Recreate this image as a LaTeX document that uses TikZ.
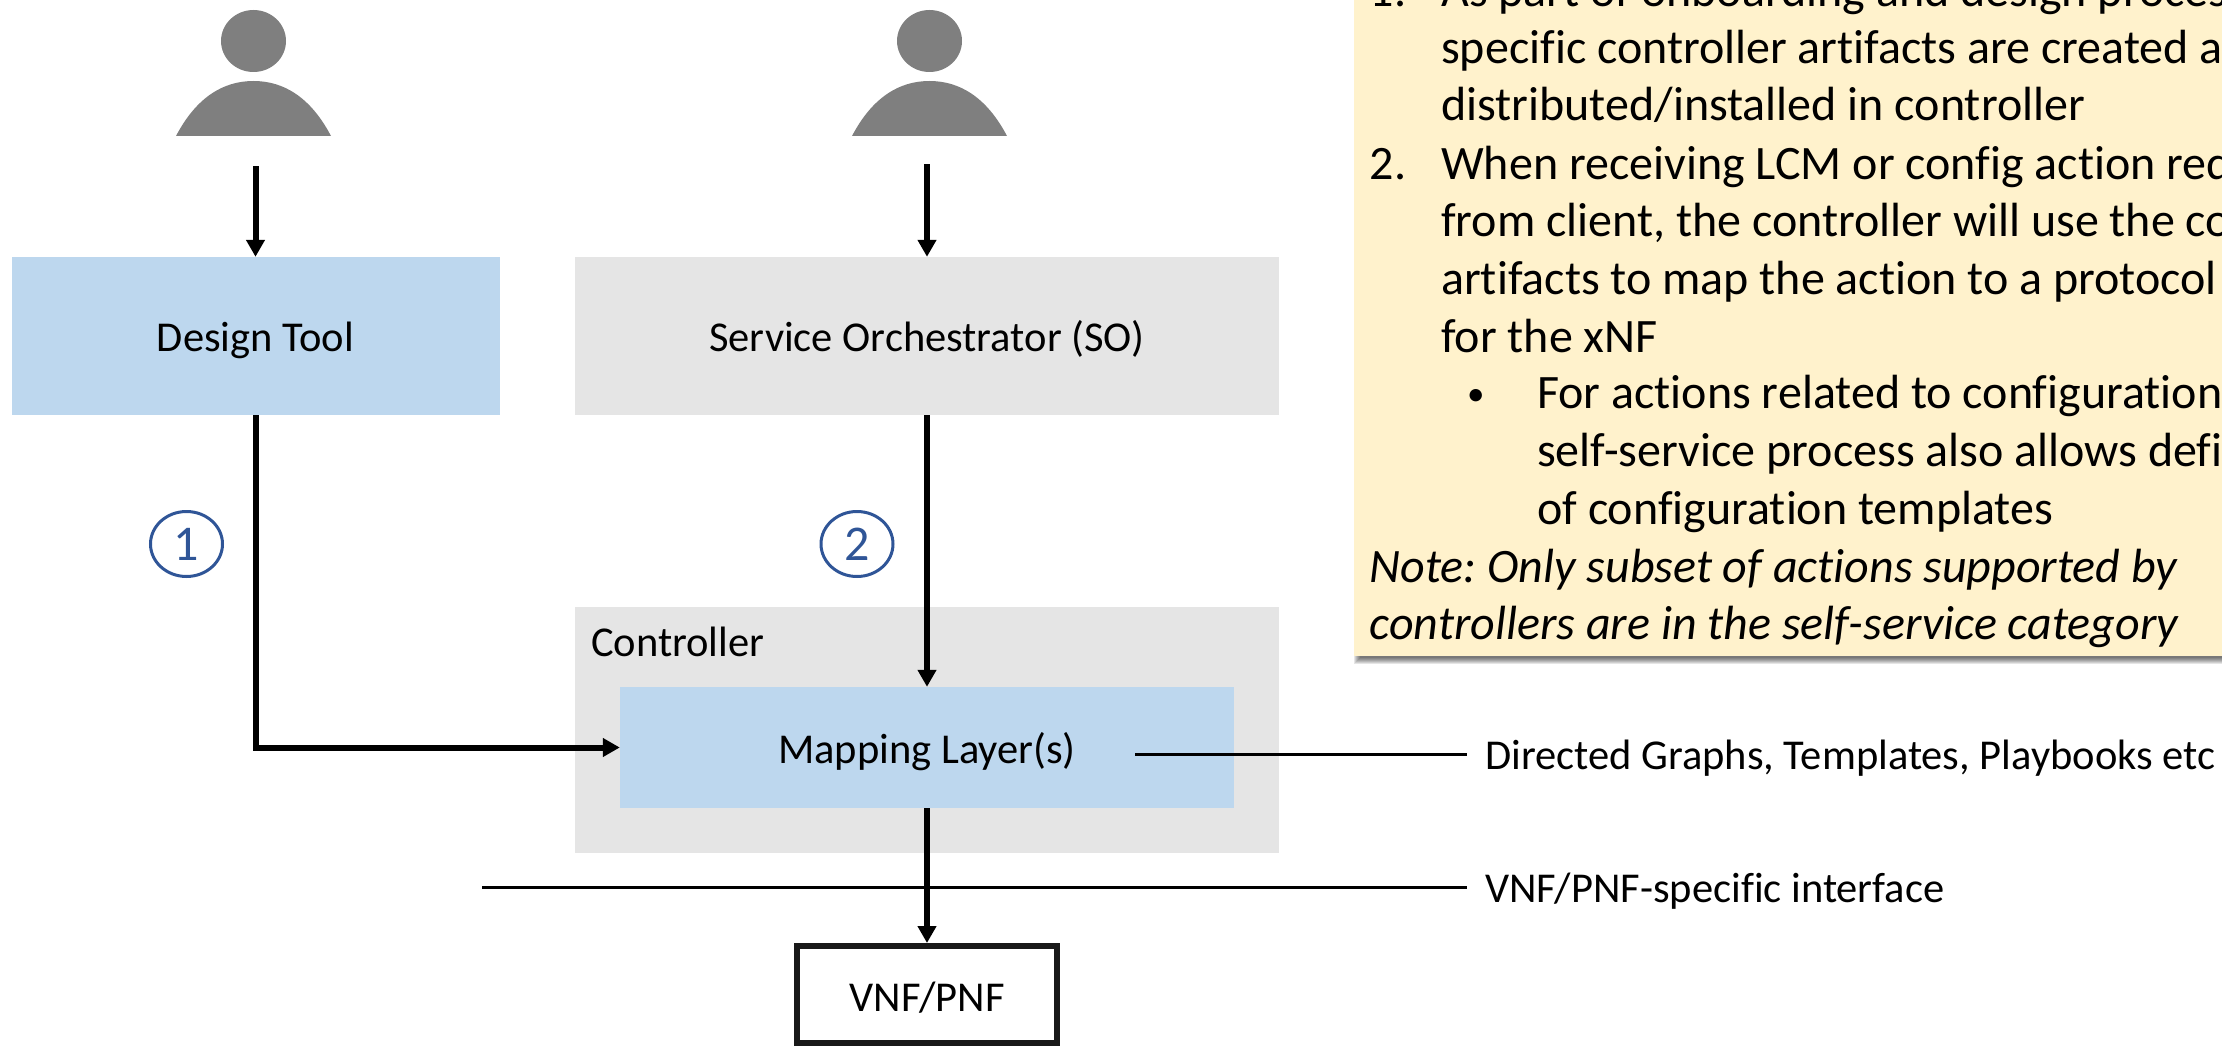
\documentclass[tikz,border=0pt]{standalone}
\usepackage{fontspec}
\setmainfont{Carlito}[Ligatures=NoCommon]
\usetikzlibrary{arrows.meta,shapes.geometric}
\definecolor{boxblue}{HTML}{BDD7EE}
\definecolor{boxgray}{HTML}{E5E5E5}
\definecolor{notefill}{HTML}{FFF2CC}
\definecolor{personfill}{HTML}{7F7F7F}
\definecolor{stepblue}{HTML}{2F5597}
\frenchspacing
\tikzset{
    boxlabel/.style = {font=\fontsize{42.5}{50}\selectfont, inner sep=0pt, text height=41pt, text depth=10pt},
    bluebox/.style = {boxlabel, fill=boxblue},
    graybox/.style = {boxlabel, fill=boxgray},
    flow/.style = {line width=6pt, -{Triangle[length=17pt,width=18pt]}},
    thinline/.style = {line width=3pt},
    sidelabel/.style = {boxlabel, anchor=west, inner xsep=18pt, text height=40pt, text depth=10pt},
    stepmark/.style = {ellipse, draw=stepblue, line width=3pt, text=stepblue, inner sep=0pt, font=\fontsize{50}{58}\selectfont},
    notetext/.style = {anchor=base west, inner sep=0pt, font=\fontsize{48}{58}\selectfont}
}
\begin{document}
\begin{tikzpicture}[x=1pt,y=-1pt]
    \useasboundingbox (0,0) rectangle (2222,1046);
    \clip (0,0) rectangle (2222,1046);
    \foreach \px in {253.5,929.5}{
        \fill[personfill] (\px,41) ellipse (32.5 and 31);
        \fill[personfill] (\px-77.5,136) .. controls (\px-57,97) and (\px-30,81) .. (\px,81)
            .. controls (\px+30,81) and (\px+57,97) .. (\px+77.5,136) -- cycle;
    }
    \foreach \k in {0,...,6}
        \fill[black,opacity=.1] (1354+\k,\k) rectangle (2230,664-\k);
    \fill[notefill] (1354,-10) rectangle (2230,656);
    \foreach \ypos/\xpos/\linetext [count=\n] in {
        6.5/1369.5/1.,
        6.5/1441/As part of onboarding and design process,
        63.5/1441/specific controller artifacts are created and,
        120.5/1441/{distributed/installed in controller},
        179.5/1369.5/2.,
        179.5/1441/When receiving LCM or config action request,
        236.5/1441/{from client, the controller will use the controller},
        294.5/1441/artifacts to map the action to a protocol,
        352.5/1441/for the xNF,
        408.5/1537/For actions related to configuration,
        466.5/1537/self-service process also allows definition,
        524.5/1537/of configuration templates}
        \node[notetext] (noteline\n) at (\xpos,\ypos) {\linetext};
    \node[notetext,font=\fontsize{35}{42}\selectfont] (notebullet) at (1467,405) {•};
    \node[notetext,font=\fontsize{48}{58}\selectfont\itshape] (notefirst) at (1369.5,582.5) {Note: Only subset of actions supported by};
    \node[notetext,font=\fontsize{48}{58}\selectfont\itshape] (notesecond) at (1369.5,639.5) {controllers are in the self-service category};
    \node[bluebox,minimum width=488pt,minimum height=158pt] (designtool) at (255.5,336) {Design Tool};
    \node[graybox,minimum width=704pt,minimum height=158pt] (so) at (927,336) {Service Orchestrator (SO)};
    \node[graybox,minimum width=704pt,minimum height=246pt] (controller) at (927,730) {};
    \node[boxlabel,anchor=base west] (controllerlabel) at (591,656) {Controller};
    \node[bluebox,minimum width=614pt,minimum height=121pt] (mapping) at (927,747.5) {Mapping Layer(s)};
    \node[boxlabel,text height=43pt,draw=black!90,line width=6pt,minimum width=260pt,minimum height=97pt] (vnf) at (927,994.5) {VNF/PNF};
    \node[sidelabel] (graphslabel) at (1467,754) {Directed Graphs, Templates, Playbooks etc};
    \node[sidelabel] (ifacelabel) at (1467,887) {VNF/PNF-specific interface};
    \node[stepmark,minimum width=72pt,minimum height=65pt] (stepone) at (186.5,544) {1};
    \node[stepmark,minimum width=72pt,minimum height=65pt] (steptwo) at (857,544) {2};
    \coordinate (userone) at (255.5,166);
    \coordinate (usertwo) at (927,164);
    \coordinate (graphsstart) at (1135,754);
    \coordinate (ifacestart) at (482,887);
    \draw[flow] (userone) -- (designtool.north);
    \draw[flow] (usertwo) -- (so.north);
    \draw[flow] (so.south) -- (mapping.north);
    \draw[flow] (designtool.south) |- (mapping.west);
    \draw[thinline] (graphsstart) -- (graphslabel.west);
    \draw[thinline] (ifacestart) -- (ifacelabel.west);
    \draw[flow] (mapping.south) -- (vnf.north);
\end{tikzpicture}
\end{document}
